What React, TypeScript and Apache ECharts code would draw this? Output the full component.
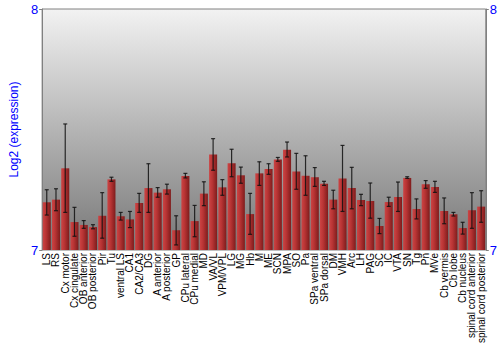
import React, { useEffect, useRef } from "react";
import * as echarts from "echarts";

const categories = [
  "LS", "RS", "Cx motor", "Cx cingulate", "OB anterior", "OB posterior", "Pir", "Tu",
  "ventral LS", "CA1", "CA2/CA3", "DG", "A anterior", "A posterior", "GP", "CPu lateral",
  "CPu medial", "MD", "VA/VL", "VPM/VPL", "LG", "MG", "Hb", "M", "ME", "SCN", "MPA", "SO",
  "Pa", "SPa ventral", "SPa dorsal", "DM", "VMH", "Arc", "LH", "PAG", "SC", "IC", "VTA",
  "SN", "Tg", "Pn", "MVe", "Cb vermis", "Cb lobe", "Cb nucleus", "spinal cord anterior",
  "spinal cord posterior",
];

const values = [
  7.198, 7.209, 7.339, 7.116, 7.104, 7.095, 7.142, 7.293,
  7.14, 7.127, 7.195, 7.257, 7.238, 7.252, 7.082, 7.307,
  7.12, 7.234, 7.396, 7.26, 7.36, 7.31, 7.149, 7.318, 7.336, 7.376, 7.416, 7.326,
  7.308, 7.302, 7.275, 7.209, 7.297, 7.257, 7.207, 7.203, 7.1, 7.199, 7.22,
  7.299, 7.17, 7.273, 7.261, 7.162, 7.148, 7.091, 7.165,
  7.18,
];

const errLow = [
  7.145, 7.163, 7.156, 7.057, 7.09, 7.088, 7.049, 7.285,
  7.124, 7.093, 7.156, 7.156, 7.219, 7.232, 7.021, 7.299,
  7.055, 7.184, 7.331, 7.227, 7.304, 7.277, 7.065, 7.268, 7.314, 7.368, 7.386, 7.252,
  7.227, 7.264, 7.268, 7.171, 7.16, 7.171, 7.184, 7.132, 7.068, 7.181, 7.16,
  7.297, 7.129, 7.256, 7.239, 7.109, 7.141, 7.066, 7.09,
  7.115,
];

const errHigh = [
  7.25, 7.254, 7.523, 7.177, 7.122, 7.105, 7.238, 7.302,
  7.156, 7.16, 7.235, 7.358, 7.259, 7.273, 7.142, 7.318,
  7.185, 7.283, 7.462, 7.292, 7.418, 7.344, 7.235, 7.366, 7.358, 7.384, 7.448, 7.401,
  7.391, 7.342, 7.285, 7.248, 7.434, 7.343, 7.231, 7.278, 7.131, 7.219, 7.282,
  7.304, 7.212, 7.288, 7.285, 7.216, 7.156, 7.115, 7.238,
  7.246,
];

const yTicks = { min: 7, max: 8, interval: 1 };

export default function App() {
  const ref = useRef<HTMLDivElement>(null);
  useEffect(() => {
    if (!ref.current) return;
    const chart = echarts.init(ref.current, undefined, { renderer: "svg" });
    const yAxisBase = {
      type: "value" as const,
      min: yTicks.min,
      max: yTicks.max,
      interval: yTicks.interval,
      splitLine: { show: false },
      axisLine: { show: true, lineStyle: { color: "#808080", width: 1 } },
      axisTick: { show: true, length: 3, lineStyle: { color: "#808080" } },
      axisLabel: { color: "#0000ff", fontSize: 13, fontFamily: "Liberation Sans, Arial, sans-serif", margin: 4 },
    };
    chart.setOption({
      animation: false,
      textStyle: { fontFamily: "Liberation Sans, Arial, sans-serif" },
      grid: {
        left: 27,
        right: 13,
        top: 9,
        bottom: 100,
        show: true,
        borderColor: "#808080",
        borderWidth: 1,
        backgroundColor: new echarts.graphic.LinearGradient(0, 0, 0, 1, [
          { offset: 0, color: "#f2f2f2" },
          { offset: 1, color: "#777777" },
        ]),
      },
      xAxis: {
        type: "category",
        data: categories,
        axisLine: { show: false },
        axisTick: { show: false },
        axisLabel: {
          rotate: 90,
          interval: 0,
          color: "#000",
          fontSize: 10,
          margin: 3,
          fontFamily: "Liberation Sans, Arial, sans-serif",
        },
      },
      yAxis: [
        {
          ...yAxisBase,
          name: "Log2 (expression)",
          nameLocation: "middle",
          nameGap: 14,
          nameTextStyle: { color: "#0000ff", fontSize: 12, fontFamily: "Liberation Sans, Arial, sans-serif" },
        },
        { ...yAxisBase, position: "right" },
      ],
      series: [
        {
          type: "bar",
          data: values,
          barCategoryGap: "13%",
          itemStyle: {
            color: new echarts.graphic.LinearGradient(0, 0, 1, 0, [
              { offset: 0, color: "#cc4444" },
              { offset: 0.4, color: "#b83434" },
              { offset: 1, color: "#7e1c1c" },
            ]),
          },
        },
        {
          type: "custom",
          data: values.map((_, i) => [i, errLow[i], errHigh[i]]),
          renderItem: (params: any, api: any) => {
            const i = api.value(0);
            const lo = api.coord([i, api.value(1)]);
            const hi = api.coord([i, api.value(2)]);
            const x = lo[0];
            const cap = 2;
            const style = { stroke: "#111", lineWidth: 1.2, opacity: 0.85 };
            return {
              type: "group",
              children: [
                { type: "line", shape: { x1: x, y1: lo[1], x2: x, y2: hi[1] }, style },
                { type: "line", shape: { x1: x - cap, y1: lo[1], x2: x + cap, y2: lo[1] }, style },
                { type: "line", shape: { x1: x - cap, y1: hi[1], x2: x + cap, y2: hi[1] }, style },
              ],
            };
          },
          z: 5,
        },
      ],
    });
    return () => chart.dispose();
  }, []);
  return <div ref={ref} style={{ width: 500, height: 350, position: "absolute", left: 0, top: 0 }} />;
}
